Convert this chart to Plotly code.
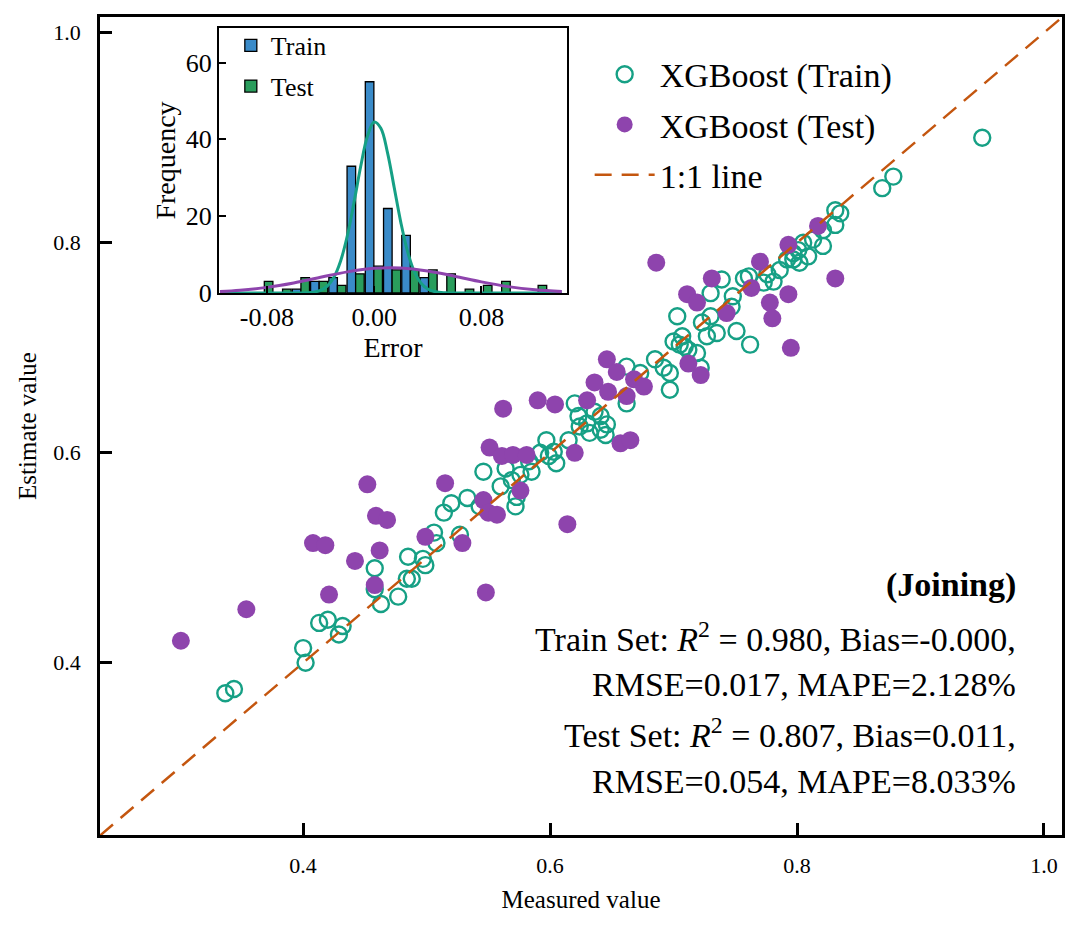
import plotly.graph_objects as go

# ---- scatter data (measured, estimated) ----
train_measured = [
    0.337, 0.344, 0.402, 0.400, 0.413, 0.420, 0.432, 0.429, 0.458, 0.458, 0.463, 0.477,
    0.484, 0.488, 0.485, 0.497, 0.499, 0.508,
    0.506, 0.514, 0.520, 0.533, 0.527, 0.543, 0.560, 0.572, 0.573, 0.546, 0.564, 0.569,
    0.576, 0.585, 0.583, 0.597, 0.603, 0.599, 0.605, 0.592, 0.615, 0.623, 0.630, 0.624,
    0.636, 0.641, 0.646, 0.641, 0.632, 0.645, 0.620, 0.662, 0.662, 0.673,
    0.831, 0.835, 0.831, 0.821, 0.813, 0.821, 0.805, 0.801, 0.809, 0.797, 0.802, 0.792,
    0.786, 0.797, 0.776, 0.781, 0.773, 0.757, 0.761, 0.739, 0.748, 0.747, 0.730, 0.730,
    0.735, 0.723, 0.727, 0.751, 0.762, 0.703, 0.700, 0.707, 0.709, 0.712, 0.705, 0.719,
    0.722, 0.685, 0.692, 0.697, 0.697,
    0.950, 0.869, 0.878,
]
train_estimated = [
    0.371, 0.375, 0.400, 0.414, 0.438, 0.441, 0.435, 0.427, 0.490, 0.470, 0.456, 0.463,
    0.480, 0.480, 0.501, 0.499, 0.493, 0.514,
    0.524, 0.543, 0.552, 0.557, 0.522, 0.549, 0.568, 0.549, 0.558, 0.582, 0.585, 0.574,
    0.579, 0.582, 0.592, 0.612, 0.601, 0.597, 0.590, 0.600, 0.612, 0.635, 0.628, 0.625,
    0.639, 0.635, 0.627, 0.622, 0.619, 0.617, 0.647, 0.647, 0.682, 0.676,
    0.831, 0.828, 0.817, 0.812, 0.803, 0.797, 0.800, 0.793, 0.787, 0.784, 0.781, 0.784,
    0.774, 0.790, 0.770, 0.763, 0.762, 0.766, 0.768, 0.765, 0.749, 0.739, 0.752, 0.730,
    0.714, 0.724, 0.711, 0.716, 0.703, 0.730, 0.706, 0.711, 0.701, 0.698, 0.703, 0.695,
    0.681, 0.689, 0.681, 0.676, 0.660,
    0.900, 0.852, 0.863,
]

test_measured = [
    0.301, 0.354, 0.421, 0.458, 0.548, 0.442, 0.462, 0.408, 0.418, 0.529, 0.499, 0.452,
    0.459, 0.468,
    0.562, 0.590, 0.604, 0.630, 0.646, 0.654, 0.636, 0.647, 0.662, 0.668, 0.676, 0.551,
    0.561, 0.570, 0.581, 0.620, 0.657, 0.665, 0.515, 0.546, 0.550, 0.557, 0.576, 0.614,
    0.686, 0.731, 0.711, 0.719, 0.743, 0.770, 0.763, 0.793, 0.817, 0.831, 0.793, 0.778,
    0.780, 0.795, 0.712, 0.722,
]
test_estimated = [
    0.421, 0.451, 0.465, 0.474, 0.467, 0.497, 0.507, 0.514, 0.512, 0.514, 0.520, 0.570,
    0.540, 0.536,
    0.642, 0.650, 0.646, 0.650, 0.689, 0.677, 0.667, 0.658, 0.654, 0.670, 0.663, 0.605,
    0.597, 0.598, 0.598, 0.600, 0.609, 0.612, 0.571, 0.555, 0.543, 0.541, 0.564, 0.532,
    0.781, 0.766, 0.751, 0.743, 0.733, 0.782, 0.757, 0.798, 0.816, 0.766, 0.751, 0.743,
    0.728, 0.700, 0.685, 0.674,
]

# 1:1 reference line end points
ref_line = [0.2355, 1.0146]

# ---- error histogram (inset) ----
bin_centers = [-0.0819, -0.0683, -0.0546, -0.0410, -0.0274, -0.0138, -0.0002, 0.0134,
               0.0270, 0.0406, 0.0542, 0.0679, 0.0815, 0.0951, 0.1087, 0.1223]
train_counts = [0, 0, 1, 3, 4, 33, 55, 22, 15, 4, 0, 0, 0, 0, 0, 0]
test_counts = [3, 1, 4, 3, 2, 5, 7, 6, 6, 6, 5, 1, 2, 3, 0, 2]

# fitted density curves
train_curve_x = [-0.115, -0.06, -0.055, -0.05, -0.045, -0.04, -0.035, -0.03, -0.025,
                 -0.02, -0.015, -0.01, -0.005, 0.0, 0.005, 0.01, 0.015, 0.02, 0.025,
                 0.03, 0.035, 0.04, 0.045, 0.05, 0.055, 0.06, 0.14]
train_curve_y = [0.0, 0.0, 0.02, 0.07, 0.23, 0.69, 1.79, 4.1, 8.35, 14.9, 23.6, 33.0,
                 40.8, 44.5, 42.9, 36.5, 27.4, 18.2, 10.7, 5.5, 2.54, 1.03, 0.37, 0.11,
                 0.03, 0.0, 0.0]
test_curve_x = [-0.115, -0.1, -0.08, -0.06, -0.04, -0.02, 0.0, 0.02, 0.04, 0.06, 0.08,
                0.1, 0.12, 0.14]
test_curve_y = [0.37, 0.71, 1.46, 2.62, 4.08, 5.50, 6.43, 6.53, 5.74, 4.38, 2.90, 1.66,
                0.83, 0.36]

# ---- stats text ----
stat_lines = [
    "<b>(Joining)</b>",
    "Train Set: <i>R</i><sup>2</sup> = 0.980, Bias=-0.000,",
    "RMSE=0.017, MAPE=2.128%",
    "Test Set: <i>R</i><sup>2</sup> = 0.807, Bias=0.011,",
    "RMSE=0.054, MAPE=8.033%",
]
stat_y = [0.3056, 0.2421, 0.1834, 0.1247, 0.066]

TEAL = "#16a085"
PURPLE = "#8e44ad"
ORANGE = "#c4560f"
BLUE = "#3a8bc9"
GREEN = "#2a9d5c"
FONT = "Liberation Serif"

fig = go.Figure()

fig.add_trace(go.Scatter(
    x=train_measured, y=train_estimated, mode="markers", name="XGBoost (Train)",
    legendgroup="a",
    marker=dict(symbol="circle-open", size=16, color=TEAL, line=dict(width=2.4, color=TEAL)),
))
fig.add_trace(go.Scatter(
    x=test_measured, y=test_estimated, mode="markers", name="XGBoost (Test)",
    legendgroup="b",
    marker=dict(symbol="circle", size=18, color=PURPLE),
))
fig.add_trace(go.Scatter(
    x=ref_line, y=ref_line, mode="lines", name="1:1 line", legendgroup="c",
    line=dict(color=ORANGE, width=2.5, dash="17px,10px"),
))

# inset histogram
fig.add_trace(go.Bar(
    x=bin_centers, y=train_counts, name="Train", xaxis="x2", yaxis="y2",
    legend="legend2", legendgroup="d",
    marker=dict(color=BLUE, line=dict(color="black", width=1.3)),
))
fig.add_trace(go.Bar(
    x=bin_centers, y=test_counts, name="Test", xaxis="x2", yaxis="y2",
    legend="legend2", legendgroup="e",
    marker=dict(color=GREEN, line=dict(color="black", width=1.3)),
))
fig.add_trace(go.Scatter(
    x=train_curve_x, y=train_curve_y, mode="lines", xaxis="x2", yaxis="y2",
    line=dict(color=TEAL, width=3, shape="spline"), showlegend=False,
))
fig.add_trace(go.Scatter(
    x=test_curve_x, y=test_curve_y, mode="lines", xaxis="x2", yaxis="y2",
    line=dict(color=PURPLE, width=3, shape="spline"), showlegend=False,
))

for txt, yy in zip(stat_lines, stat_y):
    fig.add_annotation(
        text=txt, xref="paper", yref="paper", x=0.954, y=yy,
        xanchor="right", yanchor="middle", showarrow=False,
        font=dict(family=FONT, size=34, color="black"),
    )

axis_common = dict(
    showline=True, mirror=True, linecolor="black", showgrid=False, zeroline=False,
    ticks="inside", tickcolor="black", automargin=False,
)

# the page body adds an 8px offset, so the margins are shifted to compensate
fig.update_layout(
    width=1080, height=929,
    margin=dict(l=92, r=26, t=9, b=102),
    plot_bgcolor="white", paper_bgcolor="white",
    font=dict(family=FONT, color="black"),
    barmode="group", bargap=0.06, bargroupgap=0,
    xaxis=dict(
        range=[0.2355, 1.0146], tickvals=[0.4, 0.6, 0.8, 1.0],
        ticktext=["0.4", "0.6", "0.8", "1.0"],
        linewidth=2.5, ticklen=12, tickwidth=2.5, tickfont=dict(size=22),
        ticklabelstandoff=9,
        title=dict(text="Measured value", font=dict(size=25), standoff=14),
        **axis_common,
    ),
    yaxis=dict(
        range=[0.236, 1.015], tickvals=[0.4, 0.6, 0.8, 1.0],
        ticktext=["0.4", "0.6", "0.8", "1.0"],
        linewidth=2.5, ticklen=12, tickwidth=2.5, tickfont=dict(size=22),
        ticklabelstandoff=12,
        title=dict(text="Estimate value", font=dict(size=25), standoff=10),
        **axis_common,
    ),
    xaxis2=dict(
        domain=[0.1237, 0.4854], anchor="y2", range=[-0.1157, 0.1438],
        tickvals=[-0.08, 0.0, 0.08], ticktext=["-0.08", "0.00", "0.08"],
        linewidth=2, ticklen=7, tickwidth=2, tickfont=dict(size=26),
        title=dict(text="Error", font=dict(size=28), standoff=0),
        **axis_common,
    ),
    yaxis2=dict(
        domain=[0.6626, 0.9866], anchor="x2", range=[0, 69],
        tickvals=[0, 20, 40, 60],
        linewidth=2, ticklen=7, tickwidth=2, tickfont=dict(size=26),
        title=dict(text="Frequency", font=dict(size=28), standoff=2),
        **axis_common,
    ),
    legend=dict(
        x=0.509, y=0.965, xanchor="left", yanchor="top",
        bgcolor="rgba(0,0,0,0)", font=dict(size=34),
        itemwidth=60, tracegroupgap=3, traceorder="grouped",
    ),
    legend2=dict(
        x=0.136, y=0.994, xanchor="left", yanchor="top",
        bgcolor="rgba(0,0,0,0)", font=dict(size=26),
        tracegroupgap=4, traceorder="grouped",
    ),
)

fig.write_html("out.html")
